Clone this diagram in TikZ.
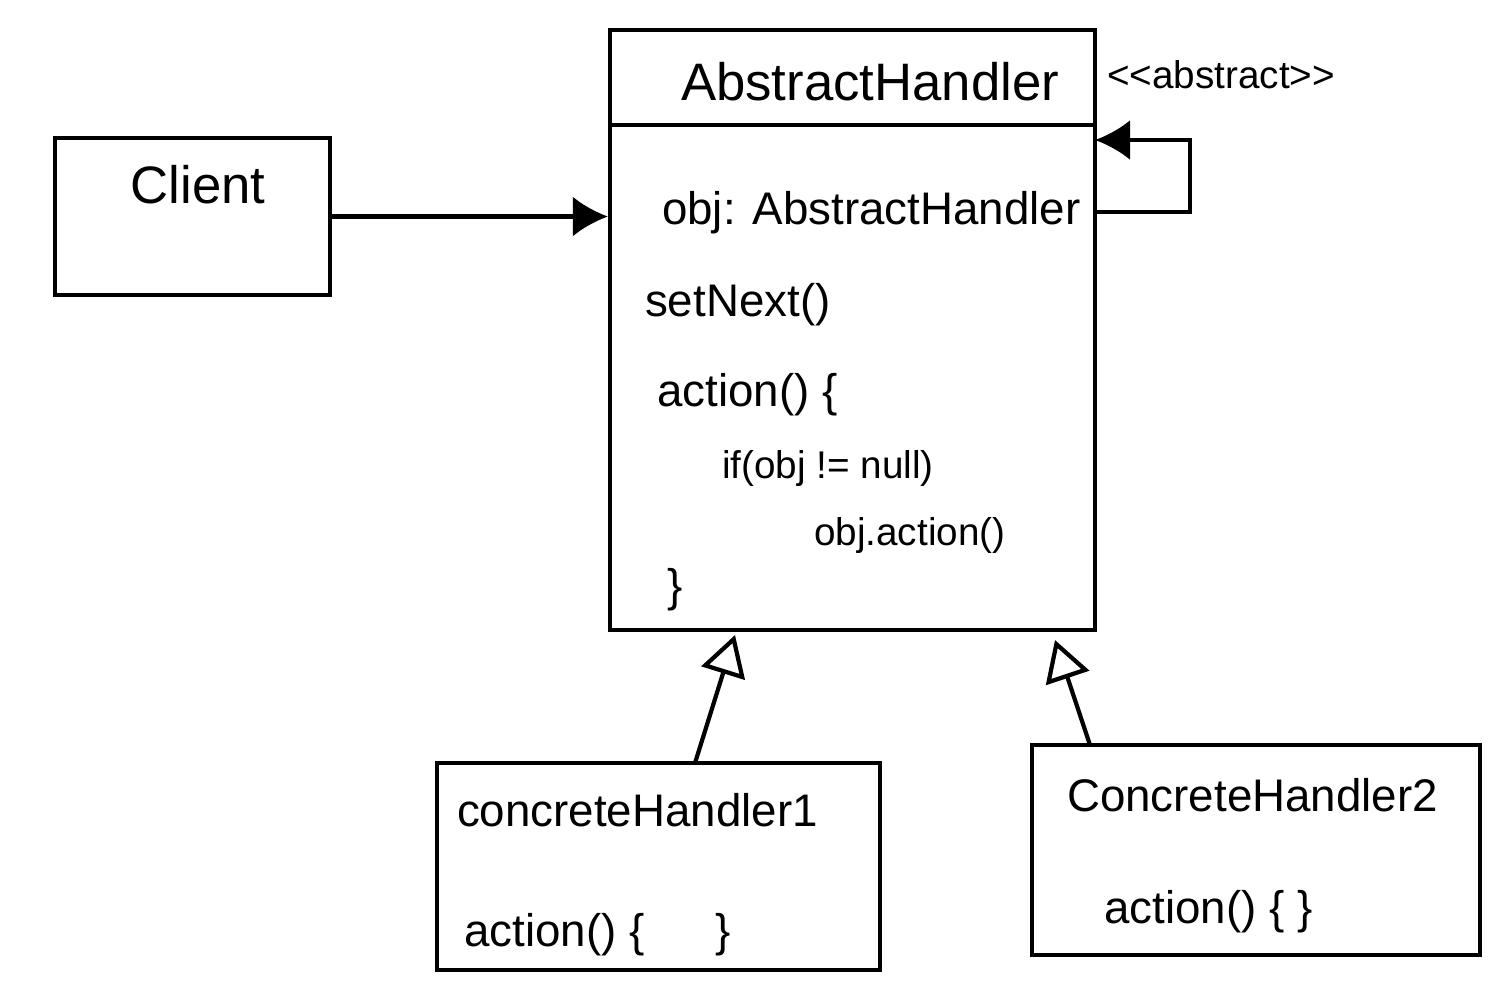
\documentclass[tikz,border=0pt]{standalone}
\usepackage{fontspec}
\setmainfont{Liberation Sans}
\usetikzlibrary{arrows.meta}
\begin{document}
\begin{tikzpicture}[line width=1.2pt,
                    box/.style = {draw, rectangle, inner sep=0pt},
                    txt/.style = {inner sep=0pt, anchor=west, font=\fontsize{13}{15}\selectfont},
                    small/.style = {inner sep=0pt, anchor=west, font=\fontsize{11}{13}\selectfont},
                    big/.style = {inner sep=0pt, font=\fontsize{15}{18}\selectfont},
                    fill arrow/.style = {-{Latex[length=0.35cm,width=0.4cm]}},
                    inherit/.style = {-{Triangle[open,length=0.4cm,width=0.45cm]}}]
                    \useasboundingbox (0,0) rectangle (15.04,-9.86);

                    % boxes
                    \node[box, minimum width=2.75cm, minimum height=1.57cm] (client) at (1.925,-2.165) {};
                    \node[box, minimum width=4.85cm, minimum height=6.0cm] (abs) at (8.525,-3.30) {};
                    \node[box, minimum width=4.43cm, minimum height=2.07cm] (ch1) at (6.585,-8.665) {};
                    \node[box, minimum width=4.48cm, minimum height=2.10cm] (ch2) at (12.56,-8.50) {};
                    \draw (abs.west |- 0,-1.25) -- (abs.east |- 0,-1.25);

                    % texts
                    \node[big] (clientname) at (1.98,-1.85) {Client};
                    \node[big] (absname) at (8.70,-0.82) {AbstractHandler};
                    \node[small] (stereo) at (11.05,-0.75) {{<}{<}abstract{>}{>}};
                    \node[txt] (field) at (6.60,-2.13) {obj: AbstractHandler};
                    \node[txt] (setnext) at (6.43,-3.05) {setNext()};
                    \node[txt] (action) at (6.55,-3.95) {action() \{};
                    \node[small] (cond) at (7.20,-4.68) {if(obj != null)};
                    \node[small] (call) at (8.12,-5.35) {obj.action()};
                    \node[txt] (close) at (6.65,-5.90) {\}};
                    \node[txt] (ch1name) at (4.55,-8.10) {concreteHandler1};
                    \node[txt] (ch1act) at (4.62,-9.35) {action() \{\quad\ \ \}};
                    \node[txt] (ch2name) at (10.65,-7.95) {ConcreteHandler2};
                    \node[txt] (ch2act) at (11.02,-9.12) {action() \{ \}};

                    % connectors
                    \coordinate (loopout) at (10.95,-2.12);
                    \coordinate (loopin) at (10.95,-1.40);
                    \coordinate (ch1top) at (6.95,-7.63);
                    \coordinate (ch1tip) at (7.35,-6.35);
                    \coordinate (ch2top) at (10.90,-7.45);
                    \coordinate (ch2tip) at (10.55,-6.40);

                    \draw[fill arrow] (client.east) -- (client.east -| abs.west);
                    \draw[fill arrow] (loopout) -- ++(0.95,0) |- (loopin);
                    \draw[inherit] (ch1top) -- (ch1tip);
                    \draw[inherit] (ch2top) -- (ch2tip);
                \end{tikzpicture}
\end{document}
